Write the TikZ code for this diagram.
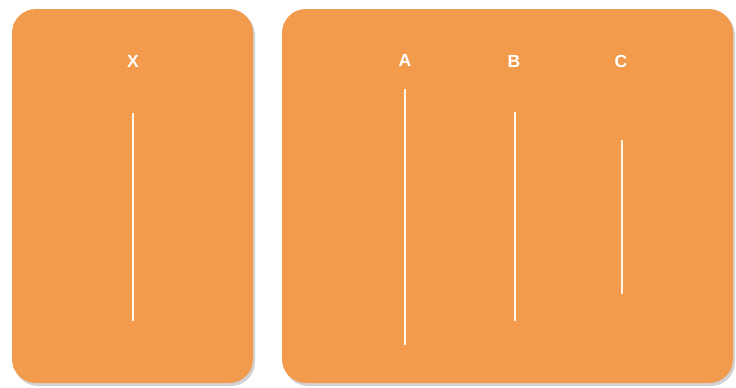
\documentclass[tikz,border=0pt]{standalone}
\usepackage{fontspec}
\setmainfont{Liberation Sans}
\definecolor{cardorange}{RGB}{242,155,77}
\definecolor{barwhite}{RGB}{255,246,232}
\tikzset{
  card/.style={fill=cardorange, rounded corners=24pt},
  cardshadow/.style={fill=black!18, rounded corners=24pt},
  head/.style={text=white, font=\bfseries\fontsize{17.5}{20}\selectfont},
  bar/.style={draw=barwhite, line width=1.8pt}
}
\begin{document}
\begin{tikzpicture}[x=1pt, y=-1pt]
    \useasboundingbox (0,0) rectangle (736,388);
    % cards with a faint shadow
    \fill[cardshadow] (14,11) rectangle (255,386);
    \fill[cardshadow] (284,11) rectangle (735,386);
    \fill[card] (12,9) rectangle (253,383);
    \fill[card] (282,9) rectangle (733,383);
    % headings
    \node[head] (x) at (133,61) {X};
    \node[head] (a) at (405,60) {A};
    \node[head] (b) at (514,61) {B};
    \node[head] (c) at (621,61) {C};
    % bars: name/x/top/bottom
    \foreach \n/\x/\t/\b in {x/133/113/321, a/405/89/345, b/515/112/321, c/622/140/294} {
      \coordinate (\n top) at (\x,\t);
      \coordinate (\n bot) at (\x,\b);
      \draw[bar] (\n top) -- (\n bot);
    }
\end{tikzpicture}
\end{document}
